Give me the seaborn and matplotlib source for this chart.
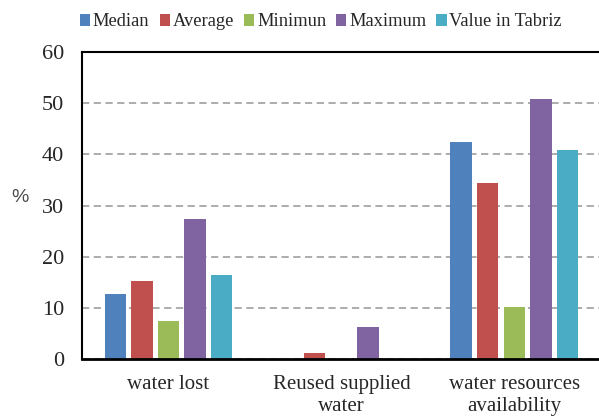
import matplotlib
matplotlib.use("Agg")
import matplotlib.pyplot as plt
import seaborn as sns
import pandas as pd
from matplotlib.patches import Patch

categories = ["water lost", "Reused supplied\nwater", "water resources\navailability"]
series = ["Median", "Average", "Minimun", "Maximum", "Value in Tabriz"]
median = [12.7, 0, 42.4]
average = [15.2, 1.2, 34.4]
minimum = [7.4, 0, 10.2]
maximum = [27.4, 6.2, 50.8]
tabriz = [16.4, 0, 40.8]
colors = ["#4F81BD", "#C0504D", "#9BBB59", "#8064A2", "#4BACC6"]

rows = []
for name, vals in zip(series, [median, average, minimum, maximum, tabriz]):
    for cat, v in zip(categories, vals):
        rows.append({"category": cat, "series": name, "value": v})
df = pd.DataFrame(rows)

sns.set_style("white")
plt.rcParams["font.family"] = ["Liberation Serif", "DejaVu Serif"]

fig = plt.figure(figsize=(5.99, 4.17), dpi=100)
ax = fig.add_axes([0.137, 0.139, 0.866, 0.736])

sns.barplot(data=df, x="category", y="value", hue="series", palette=colors,
            width=0.77, gap=0.2, saturation=1, ax=ax, legend=False,
            edgecolor="none")

ax.set_ylim(0, 60)
ax.set_yticks(range(0, 61, 10))
ax.set_xlim(-0.5, 2.5)
ax.yaxis.grid(True, linestyle=(0, (4, 2.5)), color="#A6A6A6", linewidth=1.3)
ax.set_axisbelow(True)
for s in ["left", "top", "bottom"]:
    ax.spines[s].set_visible(True)
    ax.spines[s].set_color("black")
ax.spines["left"].set_linewidth(1.5)
ax.spines["top"].set_linewidth(1.5)
ax.spines["bottom"].set_linewidth(2)
ax.spines["right"].set_visible(False)

ax.tick_params(axis="y", labelsize=16, pad=13, length=0)
ax.tick_params(axis="x", labelsize=15, pad=11.5, length=0)
for lab in ax.get_xticklabels():
    lab.set_linespacing(1.2)
ax.set_xlabel("")
ax.set_ylabel("")
fig.text(20 / 599, 1 - 198 / 417, "%", fontsize=14, color="#4D4D4D",
         family="Liberation Sans", ha="center", va="center")

handles = [Patch(facecolor=c, edgecolor="none") for c in colors]
fig.legend(handles, series, loc="center", ncol=5,
           bbox_to_anchor=(321 / 599, 1 - 22 / 417), frameon=False,
           fontsize=13.3, handlelength=0.55, handleheight=0.55,
           handletextpad=0.15, columnspacing=0.55, borderpad=0)

fig.savefig("out.png", dpi=100)
